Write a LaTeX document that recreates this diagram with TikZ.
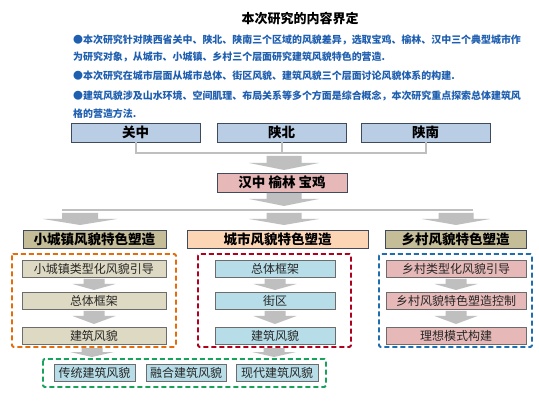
\documentclass[tikz,border=0pt]{standalone}
\usepackage{fontspec}
\setmainfont{Noto Sans CJK SC}
\definecolor{txtblue}{HTML}{1F5FB0}
\definecolor{rowblue}{HTML}{B9CDE5}
\definecolor{boxedge}{HTML}{3F4A5C}
\definecolor{pinkf}{HTML}{E6B9B8}
\definecolor{khaki}{HTML}{C4BD97}
\definecolor{peach}{HTML}{FCD5B5}
\definecolor{lkhaki}{HTML}{DDD9C3}
\definecolor{lblue}{HTML}{B7DEE8}
\definecolor{agray}{HTML}{BFBFBF}
\definecolor{dorange}{HTML}{E46C0A}
\definecolor{dred}{HTML}{B0001E}
\definecolor{dblue}{HTML}{1F6EAF}
\definecolor{dgreen}{HTML}{16A35A}
\tikzset{
  bigbox/.style={draw=boxedge, line width=0.9pt, inner sep=0pt, minimum height=19,
    font=\bfseries\fontsize{13.5}{15}\selectfont},
  innerbox/.style={draw=gray!85!black, line width=0.8pt, inner sep=0pt, minimum height=17,
    font=\fontsize{12}{14}\selectfont, text=black!85},
  txtline/.style={anchor=west, inner sep=0pt, text=txtblue, font=\bfseries\fontsize{9.95}{12}\selectfont},
  conn/.style={draw=agray, line width=2pt},
  dashbox/.style={line width=1.8pt, dash pattern=on 5pt off 3pt, rounded corners=1.5pt},
}
\newcommand\garrow[6]{% cx, top, headstart, tip, headwidth, shaftwidth
  \fill[agray] ({#1-#6/2},#2) -- ({#1+#6/2},#2) -- ({#1+#6/2},#3) -- ({#1+#5/2},#3)
    -- (#1,#4) -- ({#1-#5/2},#3) -- ({#1-#6/2},#3) -- cycle;}
\begin{document}
\begin{tikzpicture}[x=1pt,y=-1pt]
\useasboundingbox[fill=white] (0,0) rectangle (539,401);
% title and text
\node[inner sep=0pt, font=\bfseries\fontsize{13}{15}\selectfont] (title) at (300,19) {本次研究的内容界定};
\node[txtline] (l1) at (73,40) {●本次研究针对陕西省关中、陕北、陕南三个区域的风貌差异，选取宝鸡、榆林、汉中三个典型城市作};
\node[txtline] (l2) at (73,57) {为研究对象，从城市、小城镇、乡村三个层面研究建筑风貌特色的营造.};
\node[txtline] (l3) at (73,76) {●本次研究在城市层面从城市总体、街区风貌、建筑风貌三个层面讨论风貌体系的构建.};
\node[txtline] (l4) at (73,96) {●建筑风貌涉及山水环境、空间肌理、布局关系等多个方面是综合概念，本次研究重点探索总体建筑风};
\node[txtline] (l5) at (73,114) {格的营造方法.};
% row 1
\node[bigbox, fill=rowblue, minimum width=129] (gz) at (135.5,132.5) {关中};
\node[bigbox, fill=rowblue, minimum width=129] (sb) at (281.5,132.5) {陕北};
\node[bigbox, fill=rowblue, minimum width=129] (sn) at (425.5,132.5) {陕南};
\draw[conn] (gz.south) -- ++(0,11) coordinate (jl) -| (sn.south);
\draw[conn] (sb.south) -- (sb.south |- jl);
\garrow{284}{156}{163}{170}{70}{35}
% cities
\node[bigbox, fill=pinkf, minimum width=130] (hz) at (282,182.5) {汉中 榆林 宝鸡};
\garrow{284}{193}{199}{206}{70}{35}
\coordinate (hl) at (62,210);
\coordinate (hr) at (473,210);
\draw[conn, line width=2.5pt] (hl) -- (hr);
\garrow{80}{213}{219}{225}{74}{36}
\garrow{284}{213}{219}{225}{70}{35}
\garrow{456}{213}{219}{225}{68}{35}
% row 3
\node[bigbox, fill=khaki, minimum width=143, minimum height=18] (ra) at (94.5,239) {小城镇风貌特色塑造};
\node[bigbox, fill=peach, minimum width=181, minimum height=18] (rb) at (277.5,239) {城市风貌特色塑造};
\node[bigbox, fill=khaki, minimum width=141, minimum height=18] (rc) at (455.5,239) {乡村风貌特色塑造};
% dashed groups
\draw[dashbox, draw=dorange] (12,254) rectangle (176,347);
\draw[dashbox, draw=dred] (198,254) rectangle (351,347);
\draw[dashbox, draw=dblue] (379,254) rectangle (532,347);
% left column
\node[innerbox, fill=lkhaki, minimum width=144] (a1) at (94,268.5) {小城镇类型化风貌引导};
\node[innerbox, fill=lkhaki, minimum width=144] (a2) at (94,300.5) {总体框架};
\node[innerbox, fill=lkhaki, minimum width=144] (a3) at (94,335.5) {建筑风貌};
% middle column
\node[innerbox, fill=lblue, minimum width=120] (b1) at (275,268.5) {总体框架};
\node[innerbox, fill=lblue, minimum width=120] (b2) at (275,300.5) {街区};
\node[innerbox, fill=lblue, minimum width=120] (b3) at (275,335.5) {建筑风貌};
% right column
\node[innerbox, fill=pinkf, minimum width=140] (c1) at (456,268.5) {乡村类型化风貌引导};
\node[innerbox, fill=pinkf, minimum width=140] (c2) at (456,300.5) {乡村风貌特色塑造控制};
\node[innerbox, fill=pinkf, minimum width=140] (c3) at (456,335.5) {理想模式构建};
% small arrows
\foreach \cx in {94,275,456}{
  \garrow{\cx}{279}{284}{290}{43}{21}
  \garrow{\cx}{311}{316}{324}{43}{21}
}
\garrow{92}{348}{352}{357}{44}{21}
\garrow{274}{348}{352}{357}{44}{21}
% green group
\draw[dashbox, draw=dgreen] (43,359) rectangle (326,387);
\node[innerbox, fill=lblue, minimum width=81] (g1) at (94.5,372.5) {传统建筑风貌};
\node[innerbox, fill=lblue, minimum width=80] (g2) at (186,372.5) {融合建筑风貌};
\node[innerbox, fill=lblue, minimum width=82] (g3) at (277,372.5) {现代建筑风貌};
\end{tikzpicture}
\end{document}
